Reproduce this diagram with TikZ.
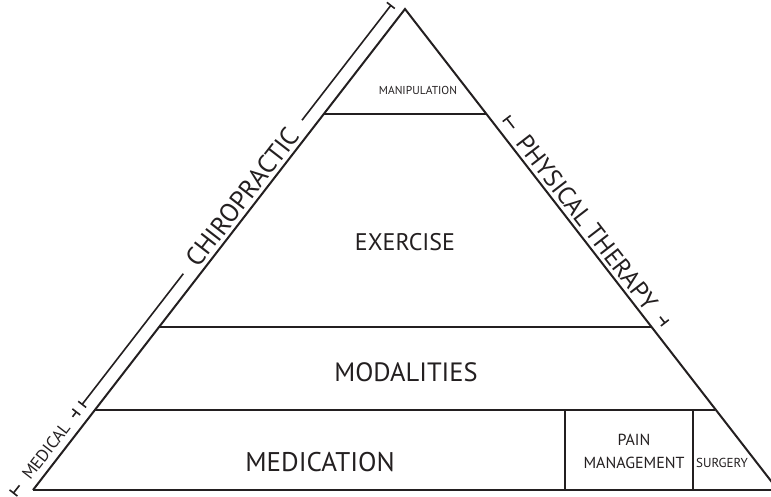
\documentclass[tikz,border=0pt]{standalone}
\usepackage{fontspec}
\setmainfont{PT Sans}
\usetikzlibrary{arrows.meta}
\definecolor{ink}{HTML}{231F20}
\tikzset{
  edge/.style={line width=2pt, line join=miter, draw=ink},
  band/.style={line width=2.4pt, draw=ink},
  bracket/.style={line width=1.6pt, draw=ink},
  tbar/.style={bracket, -{Bar[width=10pt,line width=1.6pt]}},
  lbl/.style={inner sep=0pt, anchor=center, text=ink},
}
\begin{document}
\begin{tikzpicture}[x=1pt,y=-1pt]
\useasboundingbox (0,0) rectangle (771,496);
\clip (0,0) rectangle (771,496);
% triangle corners
\coordinate (A) at (405,9);
\coordinate (BL) at (33,490);
\coordinate (BR) at (778,490);
% band lines
\coordinate (m1l) at (323.8,114); \coordinate (m1r) at (486.2,114);
\coordinate (m2l) at (159.1,327); \coordinate (m2r) at (650.9,327);
\coordinate (m3l) at (94.9,410);  \coordinate (m3r) at (715.1,410);
\coordinate (v1t) at (565,410); \coordinate (v1b) at (565,490);
\coordinate (v2t) at (693,410); \coordinate (v2b) at (693,490);
\draw[edge] (BL) -- (A) -- (BR);
\draw[band] (BL) -- (BR);
\draw[band] (m1l) -- (m1r);
\draw[band] (m2l) -- (m2r);
\draw[band] (m3l) -- (m3r);
\draw[edge] (v1t) -- (v1b);
\draw[edge] (v2t) -- (v2b);
% labels
\node[lbl, font=\fontsize{11.5}{14}\selectfont] (manip) at (418,90) {MANIPULATION};
\node[lbl, font=\fontsize{24}{28}\selectfont] (exer) at (405,242) {EXERCISE};
\node[lbl, font=\fontsize{26.5}{30}\selectfont] (moda) at (406,372) {MODALITIES};
\node[lbl, font=\fontsize{27}{30}\selectfont] (medi) at (320,462) {MEDICATION};
\node[lbl, font=\fontsize{16}{23}\selectfont, align=center] (pain) at (634,451) {PAIN\\MANAGEMENT};
\node[lbl, font=\fontsize{13}{15}\selectfont] (surg) at (722,463) {SURGERY};
% chiropractic bracket
\coordinate (c0) at (391.3,4.8);
\coordinate (c1) at (302.0,120.2);
\coordinate (c2) at (183.3,273.7);
\coordinate (c3) at (81.7,405.0);
\draw[tbar] (c1) -- (c0);
\draw[tbar] (c2) -- (c3);
\node[lbl, rotate=52.3, font=\fontsize{26}{30}\selectfont] (chiro) at (242.6,197) {CHIROPRACTIC};
% medical bracket
\coordinate (d0) at (76.8,411.3);
\coordinate (d1) at (72.5,416.8);
\coordinate (d2) at (19.5,485.3);
\coordinate (d3) at (13.0,493.6);
\draw[tbar] (d1) -- (d0);
\draw[tbar] (d2) -- (d3);
\node[lbl, rotate=52.3, font=\fontsize{17}{20}\selectfont] (med) at (46.0,451.0) {MEDICAL};
% physical therapy bracket
\coordinate (p0) at (506.2,117.9);
\coordinate (p1) at (514.0,128.0);
\coordinate (p2) at (660.0,316.7);
\coordinate (p3) at (665.3,323.5);
\draw[tbar] (p1) -- (p0);
\draw[tbar] (p2) -- (p3);
\node[lbl, rotate=-52.3, font=\fontsize{25}{28}\selectfont] (pt) at (587.0,222.3) {PHYSICAL THERAPY};
\end{tikzpicture}
\end{document}
